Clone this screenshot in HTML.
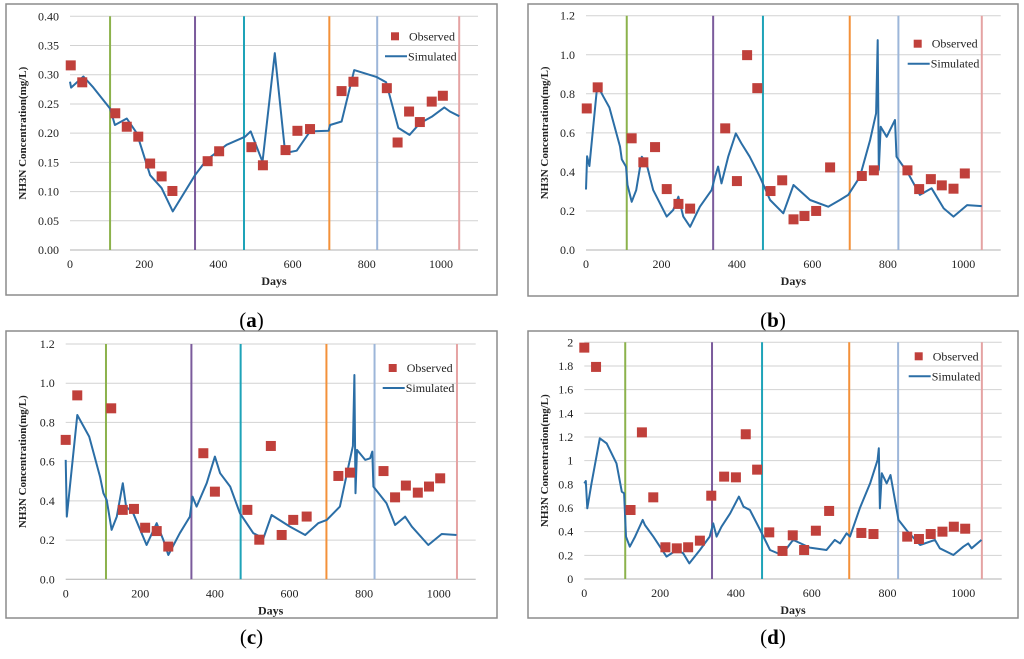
<!DOCTYPE html>
<html><head><meta charset="utf-8"><style>
html,body{margin:0;padding:0;background:#fff;width:1024px;height:659px;overflow:hidden}
svg{display:block;font-family:"Liberation Serif",serif}
</style></head><body>
<svg id="fig" width="1024" height="659" viewBox="0 0 1024 659"></svg>
<script>
// ---- data ----
const xTicks = [0,200,400,600,800,1000];
const phaseDays = [108,337,469,699,828,1049];
const phaseColors = ['#8cb24c','#7b5b9c','#1ea3b8','#f3913a','#9db6d9','#e5a3a3'];

const aTicks = [0,0.05,0.10,0.15,0.20,0.25,0.30,0.35,0.40];
const aTickLabels = ['0.00','0.05','0.10','0.15','0.20','0.25','0.30','0.35','0.40'];
const aObsDays = [2,33,122,153,184,216,247,276,371,402,489,520,581,613,647,732,764,854,883,914,943,975,1005];
const aObsVals = [0.316,0.287,0.234,0.211,0.194,0.148,0.126,0.101,0.152,0.169,0.176,0.145,0.171,0.204,0.207,0.272,0.288,0.277,0.184,0.237,0.219,0.254,0.264];
const aSimDays = [0,3,36,63,108,121,153,180,216,247,277,337,368,422,472,487,519,552,580,611,647,697,701,732,766,827,852,885,915,943,975,1009,1024,1049];
const aSimVals = [0.288,0.278,0.297,0.278,0.242,0.214,0.225,0.2,0.128,0.106,0.066,0.128,0.154,0.18,0.194,0.203,0.151,0.337,0.166,0.170,0.203,0.204,0.214,0.22,0.308,0.296,0.287,0.209,0.197,0.217,0.228,0.244,0.237,0.229];

const bTicks = [0,0.2,0.4,0.6,0.8,1.0,1.2];
const bTickLabels = ['0.0','0.2','0.4','0.6','0.8','1.0','1.2'];
const bObsDays = [2,31,121,152,183,214,245,276,369,400,427,454,489,520,550,579,610,647,731,763,852,883,914,943,974,1004];
const bObsVals = [0.725,0.833,0.572,0.449,0.527,0.312,0.236,0.212,0.623,0.353,0.998,0.829,0.302,0.357,0.157,0.174,0.2,0.423,0.379,0.408,0.408,0.312,0.363,0.331,0.314,0.392];
const bSimDays = [0,3,9,30,46,62,90,95,106,110,121,133,148,160,178,214,231,245,258,276,302,333,342,350,359,377,397,412,434,461,488,523,550,594,642,673,695,726,753,769,773,776,781,797,810,819,823,854,885,916,948,974,1010,1049];
const bSimVals = [0.31,0.48,0.43,0.845,0.785,0.73,0.53,0.464,0.427,0.333,0.247,0.307,0.478,0.444,0.307,0.171,0.205,0.273,0.171,0.119,0.222,0.307,0.375,0.427,0.341,0.478,0.597,0.546,0.478,0.375,0.256,0.188,0.333,0.256,0.222,0.256,0.282,0.375,0.563,0.7,1.075,0.41,0.631,0.58,0.631,0.666,0.478,0.392,0.282,0.316,0.213,0.171,0.23,0.225];

const cTicks = bTicks;
const cTickLabels = bTickLabels;
const cObsDays = [0,31,122,153,183,213,244,275,369,400,487,519,550,579,610,646,731,762,852,883,912,944,974,1004];
const cObsVals = [0.711,0.938,0.872,0.354,0.359,0.263,0.246,0.167,0.643,0.447,0.354,0.202,0.68,0.226,0.303,0.32,0.527,0.544,0.552,0.418,0.478,0.442,0.473,0.515];
const cSimDays = [0,3,31,63,92,101,110,123,137,153,162,181,217,244,262,275,306,333,340,351,378,400,414,441,467,503,530,552,601,642,677,700,735,758,770,774,777,781,803,816,822,825,860,883,910,928,972,1008,1048];
const cSimVals = [0.609,0.32,0.838,0.728,0.524,0.439,0.405,0.252,0.32,0.49,0.371,0.337,0.175,0.286,0.2,0.124,0.235,0.32,0.422,0.371,0.49,0.626,0.541,0.473,0.337,0.235,0.209,0.328,0.269,0.226,0.286,0.303,0.371,0.575,0.68,1.042,0.439,0.66,0.609,0.617,0.651,0.473,0.388,0.277,0.32,0.269,0.175,0.231,0.226];

const dTicks = [0,0.2,0.4,0.6,0.8,1,1.2,1.4,1.6,1.8,2];
const dTickLabels = ['0','0.2','0.4','0.6','0.8','1','1.2','1.4','1.6','1.8','2'];
const dObsDays = [0,31,122,152,182,214,244,274,305,335,369,400,426,456,488,523,550,580,611,646,731,763,852,883,914,945,975,1005];
const dObsVals = [1.955,1.792,0.583,1.239,0.69,0.268,0.259,0.268,0.324,0.704,0.865,0.859,1.223,0.924,0.394,0.237,0.369,0.245,0.408,0.575,0.389,0.38,0.358,0.338,0.38,0.4,0.442,0.425];
const dSimDays = [0,4,8,19,41,59,85,99,105,110,120,134,154,160,182,217,244,261,277,305,331,340,349,362,385,408,420,437,464,490,521,551,595,639,661,675,692,701,727,754,774,777,780,785,798,808,829,850,886,925,938,974,1000,1013,1022,1048];
const dSimVals = [0.808,0.828,0.597,0.808,1.189,1.146,0.977,0.738,0.724,0.358,0.273,0.358,0.499,0.456,0.358,0.189,0.245,0.217,0.132,0.245,0.358,0.47,0.358,0.442,0.555,0.696,0.611,0.583,0.414,0.245,0.203,0.33,0.265,0.245,0.33,0.301,0.386,0.358,0.597,0.808,1.006,1.104,0.597,0.893,0.808,0.879,0.499,0.414,0.287,0.33,0.259,0.203,0.273,0.301,0.259,0.33];

// ---- drawing ----
const NS='http://www.w3.org/2000/svg';
const svg=document.getElementById('fig');
function mk(tag,attrs,parent){const e=document.createElementNS(NS,tag);for(const k in attrs)e.setAttribute(k,attrs[k]);(parent||svg).appendChild(e);return e;}

function panel(cfg){
  const g=mk('g',{});
  
  
  const xs=d=>cfg.x0+(cfg.x1000-cfg.x0)*d/1000;
  const ys=v=>cfg.yb-(cfg.yb-cfg.yt)*v/cfg.ymax;
  const fr=mk('rect',{x:cfg.fx,y:cfg.fy,width:cfg.fw,height:cfg.fh,fill:'#fff',stroke:'#8c8c8c','stroke-width':1.5},g);
  
  
  cfg.ticks.forEach((t,i)=>{
    const y=ys(t);
    const gl=mk('line',{x1:cfg.x0,x2:cfg.xr,y1:y,y2:y,stroke:i===0?'#b0b0b0':'#d2d2d2','stroke-width':1},g);
    
    
    const tl=mk('text',{x:cfg.x0-11,y:y+4,'font-size':12,'text-anchor':'end',fill:'#222'},g);
    tl.textContent=cfg.tickLabels[i];
    
    
  });
  xTicks.forEach(t=>{
    const tl=mk('text',{x:xs(t),y:cfg.yb+18,'font-size':12,'text-anchor':'middle',fill:'#222'},g);
    tl.textContent=t;
    
    
  });
  phaseDays.forEach((d,i)=>{
    const l=mk('line',{x1:xs(d),x2:xs(d),y1:cfg.yt,y2:cfg.yb,stroke:phaseColors[i],'stroke-width':2},g);
    
    
  });
  const pts=cfg.simDays.map((d,i)=>xs(d).toFixed(1)+','+ys(cfg.simVals[i]).toFixed(1)).join(' ');
  const pl=mk('polyline',{points:pts,fill:'none',stroke:'#2b6ea6','stroke-width':2,'stroke-linejoin':'round'},g);
  
  
  cfg.obsDays.forEach((d,i)=>{
    const s=mk('rect',{x:xs(d)-5,y:ys(cfg.obsVals[i])-5,width:10,height:10,fill:'#c0403b'},g);
    
    
  });
  // legend
  const lg=mk('g',{},g);
  
  
  const lx=cfg.xr-83, ly=cfg.yt+cfg.legOff;
  const ls=mk('rect',{x:lx-4,y:ly-4,width:8,height:8,fill:'#c0403b'},lg);
  
  
  const lt=mk('text',{x:lx+14,y:ly+4,'font-size':12,fill:'#222'},lg);
  lt.textContent='Observed';
  
  
  const ll=mk('line',{x1:lx-10,x2:lx+12,y1:ly+20,y2:ly+20,stroke:'#2b6ea6','stroke-width':2},lg);
  
  
  const lt2=mk('text',{x:lx+13,y:ly+24,'font-size':12,fill:'#222'},lg);
  lt2.textContent='Simulated';
  
  
  const xt=mk('text',{x:(cfg.x0+cfg.xr)/2,y:cfg.yb+35,'font-size':12,'font-weight':'bold','text-anchor':'middle',fill:'#222'},g);
  xt.textContent='Days';
  
  
  const cy=(cfg.yt+cfg.yb)/2;
  const yt=mk('text',{x:0,y:0,'font-size':11,'font-weight':'bold','text-anchor':'middle',fill:'#222',transform:`translate(${cfg.fx+20},${cy}) rotate(-90)`},g);
  yt.textContent='NH3N Concentration(mg/L)';
  
  
  const cap=mk('text',{x:cfg.fx+cfg.fw/2,y:cfg.capY,'font-size':21,'text-anchor':'middle',fill:'#000'},g);
  cap.innerHTML='(<tspan font-weight="bold">'+cfg.id+'</tspan>)';
  
  
}

panel({id:'a',fx:6,fy:4,fw:491,fh:291,x0:70,x1000:441,xr:478,yt:16.3,yb:250,ymax:0.4,ticks:aTicks,tickLabels:aTickLabels,obsDays:aObsDays,obsVals:aObsVals,simDays:aSimDays,simVals:aSimVals,legOff:20,capY:327});
panel({id:'b',fx:528,fy:4,fw:490,fh:292,x0:586,x1000:963.3,xr:1000.7,yt:15.7,yb:250,ymax:1.2,ticks:bTicks,tickLabels:bTickLabels,obsDays:bObsDays,obsVals:bObsVals,simDays:bSimDays,simVals:bSimVals,legOff:28,capY:327});
panel({id:'c',fx:6,fy:331,fw:491,fh:287,x0:65.7,x1000:438.7,xr:475.7,yt:344,yb:579.3,ymax:1.2,ticks:cTicks,tickLabels:cTickLabels,obsDays:cObsDays,obsVals:cObsVals,simDays:cSimDays,simVals:cSimVals,legOff:24,capY:644});
panel({id:'d',fx:528,fy:331,fw:490,fh:287,x0:584.3,x1000:963.3,xr:1001.7,yt:342.3,yb:579,ymax:2,ticks:dTicks,tickLabels:dTickLabels,obsDays:dObsDays,obsVals:dObsVals,simDays:dSimDays,simVals:dSimVals,legOff:14,capY:644});
</script>
</body></html>
